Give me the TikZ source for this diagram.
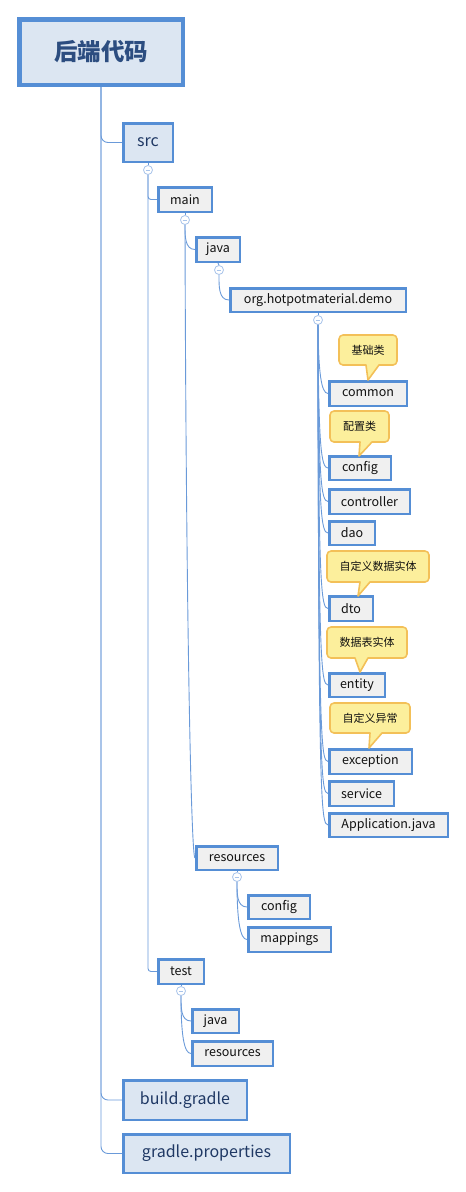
\documentclass[tikz,border=0pt]{standalone}
\usepackage{fontspec}
\setmainfont{Noto Sans CJK SC}
\definecolor{nodeblue}{HTML}{558ED5}
\definecolor{leafgray}{HTML}{F0F0F0}
\definecolor{topicblue}{HTML}{DCE6F2}
\definecolor{topictext}{HTML}{1F3864}
\definecolor{roottext}{HTML}{2C4D80}
\definecolor{textdark}{HTML}{111111}
\definecolor{connblue}{HTML}{6A9AD9}
\definecolor{foldblue}{HTML}{A9C4EA}
\definecolor{callfill}{HTML}{FCEF9C}
\definecolor{callline}{HTML}{F3C058}
\begin{document}
\begin{tikzpicture}[x=1pt,y=-1pt,
  leaf/.style={draw=nodeblue, line width=2.5pt, fill=leafgray, inner sep=0pt,
    font=\fontsize{12.5}{15}\selectfont, text=textdark},
  topic/.style={leaf, fill=topicblue, font=\fontsize{16}{19}\selectfont, text=topictext},
  rootbox/.style={draw=nodeblue, line width=4.5pt, fill=topicblue, inner sep=0pt,
    font=\fontsize{23.5}{27}\selectfont\bfseries, text=roottext},
  conn/.style={draw=connblue, line width=0.9pt},
  fold/.style={circle, draw=foldblue, fill=white, line width=0.8pt, minimum size=9pt, inner sep=0pt,
    path picture={\draw[foldblue, line width=0.8pt] (path picture bounding box.center) +(-2.4pt,0) -- +(2.4pt,0);}},
  callout/.style={draw=callline, fill=callfill, line width=1.6pt, line join=round},
  calltext/.style={font=\fontsize{11}{13}\selectfont, text=textdark, inner sep=0pt}
]
\useasboundingbox (0,0) rectangle (466,1192);

% ---------- nodes ----------
\node[rootbox, minimum width=163.5pt, minimum height=65.5pt] (root) at (101,52) {后端代码};
\node[topic, minimum width=49.5pt, minimum height=38.5pt] (src) at (148,142.5) {src};
\node[leaf, minimum width=53.5pt, minimum height=24.5pt] (main) at (185,199.5) {main};
\node[leaf, minimum width=43.5pt, minimum height=24.5pt] (java) at (218,249.5) {java};
\node[leaf, minimum width=175.5pt, minimum height=23.5pt] (org) at (318,300) {org.hotpotmaterial.demo};
\node[leaf, minimum width=77.5pt, minimum height=24.5pt] (common) at (368,393.5) {common};
\node[leaf, minimum width=61.5pt, minimum height=23.5pt] (config) at (360,468) {config};
\node[leaf, minimum width=80.5pt, minimum height=24.5pt] (controller) at (369.5,501.5) {controller};
\node[leaf, minimum width=45.5pt, minimum height=23.5pt] (dao) at (352,533) {dao};
\node[leaf, minimum width=43.5pt, minimum height=24.5pt] (dto) at (351,608.5) {dto};
\node[leaf, minimum width=55.5pt, minimum height=23.5pt] (entity) at (357,685) {entity};
\node[leaf, minimum width=82.5pt, minimum height=24.5pt] (exception) at (370.5,761.5) {exception};
\node[leaf, minimum width=64.5pt, minimum height=24.5pt] (service) at (361.5,793.5) {service};
\node[leaf, minimum width=118.5pt, minimum height=23.5pt] (app) at (388.5,825) {Application.java};
\node[leaf, minimum width=81.5pt, minimum height=23.5pt] (res) at (237,858) {resources};
\node[leaf, minimum width=61.5pt, minimum height=23.5pt] (rconfig) at (279,907) {config};
\node[leaf, minimum width=82.5pt, minimum height=24.5pt] (mappings) at (289.5,939.5) {mappings};
\node[leaf, minimum width=45.5pt, minimum height=24.5pt] (test) at (181,971.5) {test};
\node[leaf, minimum width=46.5pt, minimum height=23.5pt] (tjava) at (215.5,1021) {java};
\node[leaf, minimum width=80.5pt, minimum height=24.5pt] (tres) at (232.5,1053.5) {resources};
\node[topic, minimum width=123.5pt, minimum height=39.5pt] (build) at (185,1100) {build.gradle};
\node[topic, minimum width=166.5pt, minimum height=38.5pt] (props) at (206.5,1153.5) {gradle.properties};

% ---------- fold markers ----------
\node[fold] (fsrc) at (148,170) {};
\node[fold] (fmain) at (185,220) {};
\node[fold] (fjava) at (219,270) {};
\node[fold] (forg) at (318,320) {};
\node[fold] (fres) at (237,877) {};
\node[fold] (ftest) at (181,991) {};

% ---------- connectors ----------
\draw[conn, rounded corners=7pt] (root.south) |- (src.west);
\draw[conn, rounded corners=7pt] (root.south) |- (build.west);
\draw[conn, rounded corners=7pt] (root.south) |- (props.west);
\draw[conn] (src.south) -- (fsrc.north);
\draw[conn, rounded corners=3pt] (fsrc.south) |- (main.west);
\draw[conn, rounded corners=3pt] (fsrc.south) |- (test.west);
\draw[conn] (main.south) -- (fmain.north);
\draw[conn] (fmain.south) to[out=-90,in=180] (java.west);
\draw[conn] (fmain.south) .. controls (186,600) and (191,858) .. (res.west);
\draw[conn] (java.south) -- (fjava.north);
\draw[conn] (fjava.south) to[out=-90,in=180] (org.west);
\draw[conn] (org.south) -- (forg.north);
\foreach \c/\y in {common/393.5,config/468,controller/501.5,dao/533,dto/608.5,entity/685,exception/761.5,service/793.5,app/825}
  \draw[conn] (forg.south) .. controls (318.5,\y-22) and (321,\y) .. (\c.west);
\draw[conn] (res.south) -- (fres.north);
\draw[conn] (fres.south) to[out=-90,in=180] (rconfig.west);
\draw[conn] (fres.south) .. controls (237,920) and (240,939.5) .. (mappings.west);
\draw[conn] (test.south) -- (ftest.north);
\draw[conn] (ftest.south) to[out=-90,in=180] (tjava.west);
\draw[conn] (ftest.south) .. controls (181,1035) and (184,1053.5) .. (tres.west);

% ---------- callouts ----------
\draw[callout] (368,380) -- (366,365) [rounded corners=4pt] -- (339,365) -- (339,335) -- (397,335) -- (397,365) [sharp corners] -- (379,365) -- cycle;
\node[calltext] (c1) at (368,350) {基础类};
\draw[callout] (359,456) -- (360,442) [rounded corners=4pt] -- (330,442) -- (330,411) -- (389,411) -- (389,442) [sharp corners] -- (372,442) -- cycle;
\node[calltext] (c2) at (359.5,426.5) {配置类};
\draw[callout] (358,596) -- (360,582) [rounded corners=4pt] -- (327,582) -- (327,551) -- (429,551) -- (429,582) [sharp corners] -- (370,582) -- cycle;
\node[calltext] (c3) at (378,566.5) {自定义数据实体};
\draw[callout] (360,672) -- (355,658) [rounded corners=4pt] -- (327,658) -- (327,627) -- (407,627) -- (407,658) [sharp corners] -- (368,658) -- cycle;
\node[calltext] (c4) at (367,642.5) {数据表实体};
\draw[callout] (369,748) -- (370,733) [rounded corners=4pt] -- (330,733) -- (330,703) -- (410,703) -- (410,733) [sharp corners] -- (382,733) -- cycle;
\node[calltext] (c5) at (370,718) {自定义异常};
\end{tikzpicture}
\end{document}
